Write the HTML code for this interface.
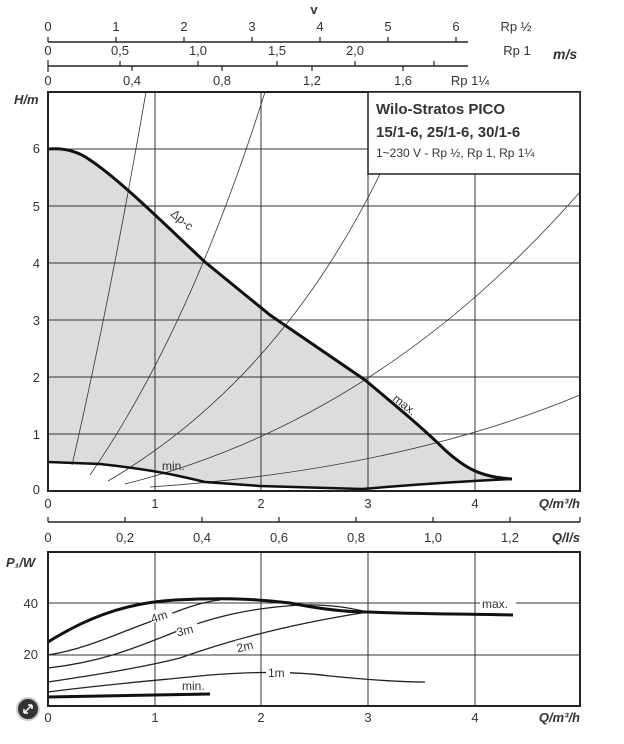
<!DOCTYPE html>
<html><head><meta charset="utf-8"><style>
body{margin:0;background:#fff;width:624px;height:739px;overflow:hidden}
text{font-family:"Liberation Sans","DejaVu Sans",sans-serif;fill:#333}
</style></head><body>
<svg width="624" height="739" viewBox="0 0 624 739" xmlns="http://www.w3.org/2000/svg">
<g font-size="13">
<text x="314" y="14" font-weight="bold" text-anchor="middle" font-size="13">v</text>
<line x1="48" y1="42" x2="468" y2="42" stroke="#222" stroke-width="1.6"/>
<g stroke="#222" stroke-width="1.2">
<line x1="48" y1="37" x2="48" y2="42"/><line x1="116" y1="37" x2="116" y2="42"/><line x1="184" y1="37" x2="184" y2="42"/><line x1="252" y1="37" x2="252" y2="42"/><line x1="320" y1="37" x2="320" y2="42"/><line x1="388" y1="37" x2="388" y2="42"/><line x1="456" y1="37" x2="456" y2="42"/>
</g>
<text x="48" y="31" text-anchor="middle">0</text><text x="116" y="31" text-anchor="middle">1</text><text x="184" y="31" text-anchor="middle">2</text><text x="252" y="31" text-anchor="middle">3</text><text x="320" y="31" text-anchor="middle">4</text><text x="388" y="31" text-anchor="middle">5</text><text x="456" y="31" text-anchor="middle">6</text><text x="516" y="31" text-anchor="middle">Rp ½</text>
<line x1="48" y1="66" x2="468" y2="66" stroke="#222" stroke-width="1.6"/>
<g stroke="#222" stroke-width="1.2">
<line x1="48" y1="60" x2="48" y2="72"/><line x1="120" y1="61" x2="120" y2="66"/><line x1="198" y1="61" x2="198" y2="66"/><line x1="277" y1="61" x2="277" y2="66"/><line x1="355" y1="61" x2="355" y2="66"/><line x1="434" y1="61" x2="434" y2="66"/>
<line x1="132" y1="66" x2="132" y2="71"/><line x1="222" y1="66" x2="222" y2="71"/><line x1="312" y1="66" x2="312" y2="71"/><line x1="403" y1="66" x2="403" y2="71"/>
</g>
<text x="48" y="55" text-anchor="middle">0</text><text x="120" y="55" text-anchor="middle">0,5</text><text x="198" y="55" text-anchor="middle">1,0</text><text x="277" y="55" text-anchor="middle">1,5</text><text x="355" y="55" text-anchor="middle">2,0</text><text x="517" y="55" text-anchor="middle">Rp 1</text>
<text x="553" y="59" font-weight="bold" font-style="italic" font-size="14">m/s</text>
<text x="48" y="85" text-anchor="middle">0</text><text x="132" y="85" text-anchor="middle">0,4</text><text x="222" y="85" text-anchor="middle">0,8</text><text x="312" y="85" text-anchor="middle">1,2</text><text x="403" y="85" text-anchor="middle">1,6</text><text x="470" y="85" text-anchor="middle">Rp 1¼</text>
</g>
<path d="M48,149 C60,148 75,149 90,160 C120,180 160,220 205,262 L270,315 L365,380 C395,405 425,430 445,450 C465,468 480,477 512,479 C470,481 420,484 362,489 L260,486 L205,482 C180,476 155,470 100,464 L48,462 Z" fill="#dcdcdc"/>
<g stroke="#333" stroke-width="1">
<line x1="48" y1="434" x2="580" y2="434"/><line x1="48" y1="377" x2="580" y2="377"/><line x1="48" y1="320" x2="580" y2="320"/><line x1="48" y1="263" x2="580" y2="263"/><line x1="48" y1="206" x2="580" y2="206"/><line x1="48" y1="149" x2="368" y2="149"/>
<line x1="155" y1="92" x2="155" y2="491"/><line x1="261" y1="92" x2="261" y2="491"/><line x1="368" y1="174" x2="368" y2="491"/><line x1="475" y1="174" x2="475" y2="491"/>
</g>
<g stroke="#333" stroke-width="0.8" fill="none">
<path d="M72,465 Q110,300 146,92"/>
<path d="M90,475 Q190,330 265,92"/>
<path d="M108,481 Q280,380 382,170"/>
<path d="M125,484 Q380,420 580,192"/>
<path d="M150,487 Q400,470 580,395"/>
</g>
<path d="M48,149 C60,148 75,149 90,160 C120,180 160,220 205,262 L270,315 L365,380 C395,405 425,430 445,450 C465,468 480,477 512,479" fill="none" stroke="#111" stroke-width="3"/>
<path d="M48,462 L100,464 C155,470 180,476 205,482 L260,486 L362,489 C420,484 470,481 512,479" fill="none" stroke="#111" stroke-width="2.5"/>
<rect x="48" y="92" width="532" height="399" fill="none" stroke="#222" stroke-width="2"/>
<rect x="368" y="92" width="212" height="82" fill="#fff" stroke="#222" stroke-width="1.5"/>
<text x="376" y="114" font-weight="bold" font-size="15" fill="#222">Wilo-Stratos PICO</text>
<text x="376" y="137" font-weight="bold" font-size="15" fill="#222">15/1-6, 25/1-6, 30/1-6</text>
<text x="376" y="157" font-size="12">1~230 V - Rp ½, Rp 1, Rp 1¼</text>
<text x="170" y="215" font-size="12" transform="rotate(40 170 215)">Δp-c</text>
<text x="392" y="400" font-size="12" transform="rotate(38 392 400)">max.</text>
<text x="162" y="470" font-size="12">min.</text>
<g font-size="13">
<text x="14" y="104" font-weight="bold" font-style="italic">H/m</text>
<text x="40" y="153" text-anchor="end">6</text><text x="40" y="211" text-anchor="end">5</text><text x="40" y="268" text-anchor="end">4</text><text x="40" y="325" text-anchor="end">3</text><text x="40" y="382" text-anchor="end">2</text><text x="40" y="439" text-anchor="end">1</text><text x="40" y="494" text-anchor="end">0</text>
<text x="48" y="508" text-anchor="middle">0</text><text x="155" y="508" text-anchor="middle">1</text><text x="261" y="508" text-anchor="middle">2</text><text x="368" y="508" text-anchor="middle">3</text><text x="475" y="508" text-anchor="middle">4</text>
<text x="580" y="508" text-anchor="end" font-weight="bold" font-style="italic">Q/m³/h</text>
<line x1="48" y1="522" x2="580" y2="522" stroke="#222" stroke-width="1.6"/>
<g stroke="#222" stroke-width="1.2">
<line x1="48" y1="517" x2="48" y2="522"/><line x1="125" y1="517" x2="125" y2="522"/><line x1="202" y1="517" x2="202" y2="522"/><line x1="279" y1="517" x2="279" y2="522"/><line x1="356" y1="517" x2="356" y2="522"/><line x1="433" y1="517" x2="433" y2="522"/><line x1="510" y1="517" x2="510" y2="522"/><line x1="580" y1="517" x2="580" y2="522"/>
</g>
<text x="48" y="542" text-anchor="middle">0</text><text x="125" y="542" text-anchor="middle">0,2</text><text x="202" y="542" text-anchor="middle">0,4</text><text x="279" y="542" text-anchor="middle">0,6</text><text x="356" y="542" text-anchor="middle">0,8</text><text x="433" y="542" text-anchor="middle">1,0</text><text x="510" y="542" text-anchor="middle">1,2</text>
<text x="580" y="542" text-anchor="end" font-weight="bold" font-style="italic">Q/l/s</text>
<text x="6" y="567" font-weight="bold" font-style="italic">P₁/W</text>
<text x="38" y="608" text-anchor="end">40</text><text x="38" y="659" text-anchor="end">20</text>
<text x="48" y="722" text-anchor="middle">0</text><text x="155" y="722" text-anchor="middle">1</text><text x="261" y="722" text-anchor="middle">2</text><text x="368" y="722" text-anchor="middle">3</text><text x="475" y="722" text-anchor="middle">4</text>
<text x="580" y="722" text-anchor="end" font-weight="bold" font-style="italic">Q/m³/h</text>
</g>
<g stroke="#333" stroke-width="1">
<line x1="48" y1="603" x2="580" y2="603"/><line x1="48" y1="655" x2="580" y2="655"/>
<line x1="155" y1="552" x2="155" y2="706"/><line x1="261" y1="552" x2="261" y2="706"/><line x1="368" y1="552" x2="368" y2="706"/><line x1="475" y1="552" x2="475" y2="706"/>
</g>
<g fill="none" stroke="#222" stroke-width="1.3">
<path d="M48,655 C90,648 120,632 155,620 C180,610 200,602 220,600"/>
<path d="M48,668 C100,662 130,650 170,634 C210,617 250,608 300,605 C330,604 350,608 368,612"/>
<path d="M48,682 C100,674 140,668 180,658 C230,640 290,624 368,612"/>
<path d="M48,692 C100,685 150,681 210,675 C260,671 300,672 330,676 C370,680 400,682 425,682"/>
</g>
<path d="M48,642 C80,622 120,603 175,600 C215,598 250,598 290,603 C320,609 345,612 368,612 C420,614 470,614 513,615" fill="none" stroke="#111" stroke-width="3"/>
<path d="M48,697 L210,694" stroke="#111" stroke-width="3"/>
<g font-size="12">
<rect x="150" y="608" width="22" height="12" fill="#fff" transform="rotate(-18 161 614)"/><text x="150" y="620" transform="rotate(-18 161 614)">4m</text>
<rect x="176" y="622" width="22" height="12" fill="#fff" transform="rotate(-14 187 628)"/><text x="176" y="634" transform="rotate(-14 187 628)">3m</text>
<rect x="236" y="638" width="22" height="12" fill="#fff" transform="rotate(-14 247 644)"/><text x="236" y="650" transform="rotate(-14 247 644)">2m</text>
<rect x="266" y="667" width="24" height="12" fill="#fff"/><text x="268" y="677">1m</text>
<text x="182" y="690">min.</text>
<rect x="480" y="597" width="36" height="12" fill="#fff"/><text x="482" y="608">max.</text>
</g>
<rect x="48" y="552" width="532" height="154" fill="none" stroke="#222" stroke-width="2"/>
<circle cx="28" cy="709" r="11" fill="#333" stroke="#ccc" stroke-width="2"/>
<path d="M24,713 L32,705 M24,713 L24,709 M24,713 L28,713 M32,705 L28,705 M32,705 L32,709" stroke="#fff" stroke-width="1.5" fill="none"/>
</svg>
</body></html>
